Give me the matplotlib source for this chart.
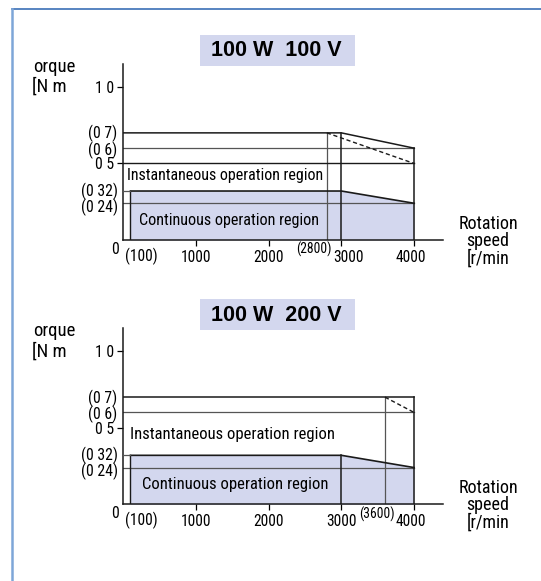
import matplotlib.pyplot as plt
from matplotlib.patches import Rectangle
from matplotlib.lines import Line2D
from matplotlib.transforms import ScaledTranslation

plt.rcParams['font.family'] = ['Roboto Condensed', 'Liberation Sans', 'DejaVu Sans']

# speed [r/min] / torque [N m] breakpoints
x_ticks = [1000, 2000, 3000, 4000]
y_major = [0.5, 1.0]
y_major_labels = ['0 5', '1 0']
y_minor = [0.24, 0.32, 0.6, 0.7]
y_minor_labels = ['(0 24)', '(0 32)', '(0 6)', '(0 7)']

cont_speed = [100, 3000, 4000]
cont_torque = [0.32, 0.32, 0.24]

top_inst_speed = [0, 3000, 4000]
top_inst_torque = [0.7, 0.7, 0.6]
top_dash_speed = [2800, 4000]
top_dash_torque = [0.7, 0.5]
top_levels = [0.6, 0.24]

bot_inst_speed = [0, 4000]
bot_inst_torque = [0.7, 0.7]
bot_dash_speed = [3600, 4000]
bot_dash_torque = [0.7, 0.6]
bot_levels = [0.6, 0.24]

W, H = 541, 581
X0, AW = 123.2, 320      # axes left edge and width in px
fill_col = '#d3d7ee'
dark = '#1a1a1a'
grey = '#555555'
fs_x = 11.2
fs_y = 11.3

fig = plt.figure(figsize=(W / 100, H / 100), dpi=100)


def px_rect(x0, y0, x1, y1, **kw):
    # rectangle given in pixel coords from the top-left corner
    return Rectangle((x0 / W, 1 - y1 / H), (x1 - x0) / W, (y1 - y0) / H,
                     transform=fig.transFigure, **kw)


def nudge(label, dx_px, dy_px=0):
    label.set_transform(label.get_transform() +
                        ScaledTranslation(dx_px / 100, dy_px / 100, fig.dpi_scale_trans))


def setup(ax, title, box_top, shifts):
    ax.set_xlim(0, 4400)
    ax.set_ylim(0, 1.15)
    for s in ['top', 'right']:
        ax.spines[s].set_visible(False)
    for s in ['left', 'bottom']:
        ax.spines[s].set_linewidth(1.1)
        ax.spines[s].set_color(dark)
    ax.set_xticks(x_ticks)
    ax.set_xticklabels([str(v) for v in x_ticks], fontsize=fs_x)
    ax.set_yticks(y_major)
    ax.set_yticklabels(y_major_labels, fontsize=fs_y)
    ax.set_yticks(y_minor, minor=True)
    ax.set_yticklabels(y_minor_labels, minor=True, fontsize=fs_y)
    ax.tick_params(axis='y', which='major', length=4.3, pad=2.5, width=0.9)
    ax.tick_params(axis='y', which='minor', length=0, pad=4)
    ax.tick_params(axis='x', length=4, pad=3, width=0.9)
    ax.patch.set_alpha(0)
    for lab, dx in zip(ax.get_xticklabels(), shifts):
        nudge(lab, dx)
    ylabs = ax.get_yticklabels(minor=True)
    nudge(ylabs[0], 0, -2)
    nudge(ylabs[1], 0, 1.5)
    nudge(ylabs[3], 0, 1)

    # continuous region
    ax.fill_between(cont_speed, cont_torque, 0, color=fill_col, lw=0, zorder=1)
    ax.plot(cont_speed, cont_torque, color=dark, lw=1.2, zorder=3)
    ax.plot([cont_speed[0], cont_speed[0]], [0, cont_torque[0]], color=dark, lw=1.0, zorder=3)
    ax.plot([0, cont_speed[0]], [cont_torque[0], cont_torque[0]], color=grey, lw=0.9, zorder=3)

    ax.annotate('0', xy=(0, 0), xytext=(-6, -6.5), textcoords='offset points',
                ha='center', va='center', fontsize=fs_y)
    ax.annotate('(100)', xy=(100, 0), xytext=(7.5, -11.5), textcoords='offset points',
                ha='center', va='center', fontsize=fs_x)
    ax.text(-0.280, 0.985, 'orque', transform=ax.transAxes, ha='left', va='center', fontsize=13.5)
    ax.text(-0.284, 0.870, '[N m', transform=ax.transAxes, ha='left', va='center', fontsize=13.5)
    ax.text(1.140, -0.006, 'Rotation\nspeed\n[r/min', transform=ax.transAxes,
            ha='center', va='center', fontsize=13, linespacing=0.95)

    fig.add_artist(px_rect(200, box_top, 355, box_top + 31, facecolor=fill_col, edgecolor='none'))
    fig.text(276.5 / W, 1 - (box_top + 16) / H, title, ha='center', va='center',
             fontsize=15.5, fontweight='bold', family=['Liberation Sans', 'DejaVu Sans'])


# ---- top: 100 W 100 V
ax1 = fig.add_axes([X0 / W, 1 - 240 / H, AW / W, 176 / H])
setup(ax1, '100 W  100 V', 35, [0, 0, 7, -3])
ax1.plot(top_inst_speed, top_inst_torque, color=dark, lw=1.1, zorder=3)
ax1.plot([4000, 4000], [0, top_inst_torque[-1]], color=dark, lw=1.1, zorder=3)
ax1.plot(top_dash_speed, top_dash_torque, color=dark, lw=1.0, ls=(0, (3, 2)), zorder=3)
ax1.plot([0, 4000], [0.5, 0.5], color=dark, lw=1.0, zorder=3)
for lv in top_levels:
    ax1.plot([0, 4000], [lv, lv], color=grey, lw=0.9, zorder=2)
ax1.plot([2800, 2800], [0, 0.7], color=grey, lw=0.9, zorder=2)
ax1.plot([3000, 3000], [0, 0.7], color=dark, lw=1.1, zorder=3)
ax1.text(52, 0.424, 'Instantaneous operation region', ha='left', va='center', fontsize=11.55)
ax1.text(217, 0.13, 'Continuous operation region', ha='left', va='center', fontsize=11.65)
ax1.annotate('(2800)', xy=(2800, 0), xytext=(-9.2, -6.7), textcoords='offset points',
             ha='center', va='center', fontsize=9.8)

# ---- bottom: 100 W 200 V
ax2 = fig.add_axes([X0 / W, 1 - 504.3 / H, AW / W, 176 / H])
setup(ax2, '100 W  200 V', 299.3, [0, 0, 0, -3])
ax2.plot(bot_inst_speed, bot_inst_torque, color=dark, lw=1.1, zorder=3)
ax2.plot([4000, 4000], [0, bot_inst_torque[-1]], color=dark, lw=1.1, zorder=3)
ax2.plot(bot_dash_speed, bot_dash_torque, color=dark, lw=1.0, ls=(0, (3, 2)), zorder=3)
for lv in bot_levels:
    ax2.plot([0, 4000], [lv, lv], color=grey, lw=0.9, zorder=2)
ax2.plot([3600, 3600], [0, 0.7], color=grey, lw=0.9, zorder=2)
ax2.plot([3000, 3000], [0, 0.32], color=dark, lw=1.1, zorder=3)
ax2.text(95, 0.459, 'Instantaneous operation region', ha='left', va='center', fontsize=12)
ax2.text(265, 0.13, 'Continuous operation region', ha='left', va='center', fontsize=12)
ax2.annotate('(3600)', xy=(3600, 0), xytext=(-5.5, -7), textcoords='offset points',
             ha='center', va='center', fontsize=9.8)

# page frame
fig.add_artist(Line2D([12 / W, 1], [1 - 9 / H, 1 - 9 / H], transform=fig.transFigure,
                      color='#3b6fb6', lw=1.2))
fig.add_artist(Line2D([12 / W, 12 / W], [0, 1 - 9 / H], transform=fig.transFigure,
                      color='#7ea6d8', lw=1.8))

fig.savefig('out.png', dpi=100)
